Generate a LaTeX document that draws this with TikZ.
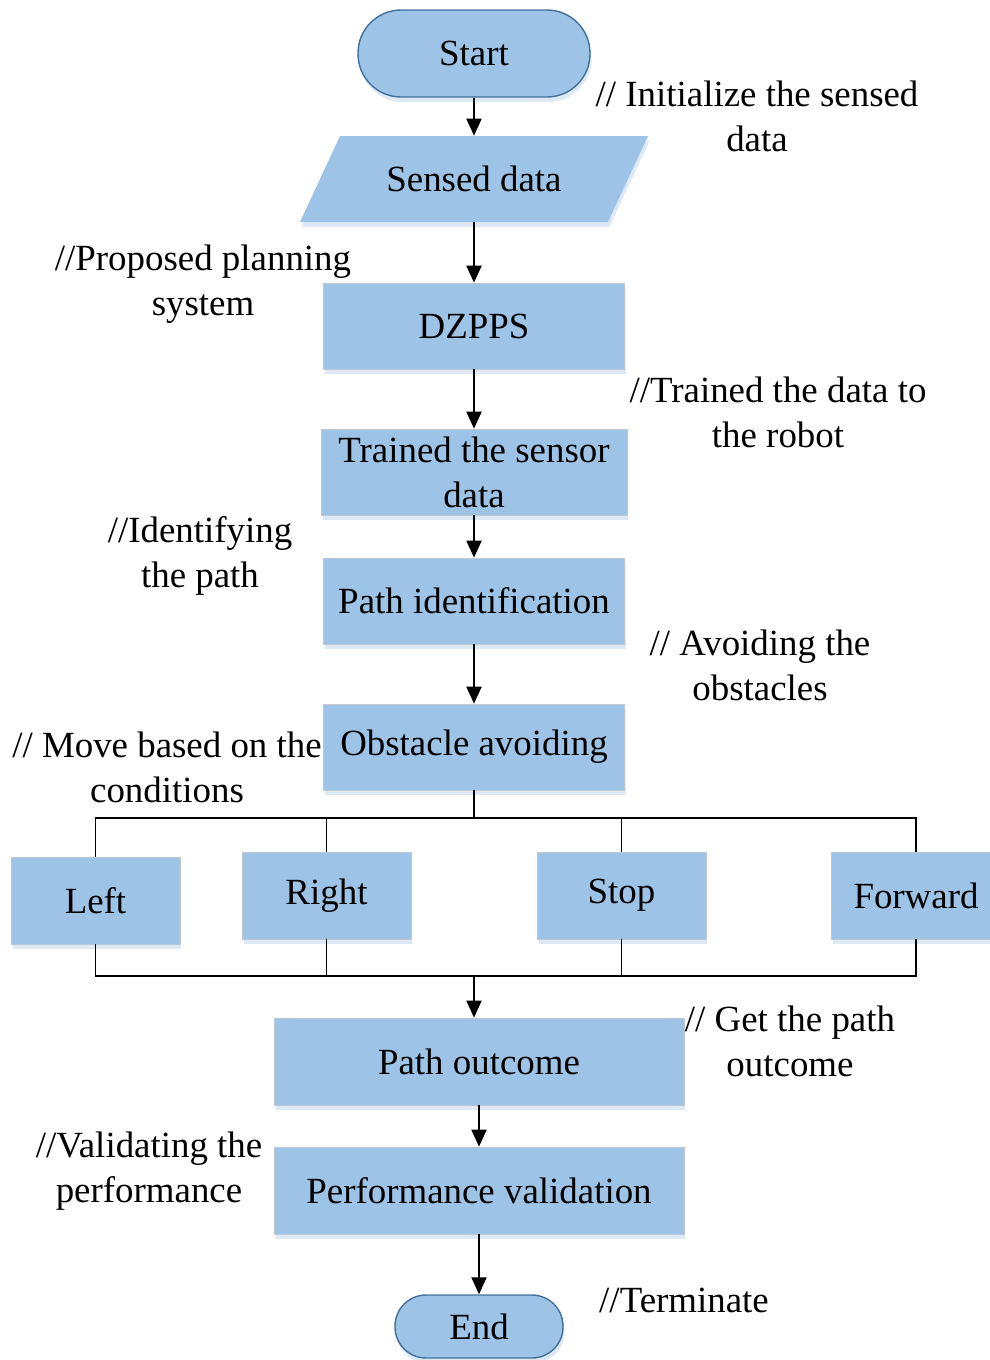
\documentclass[tikz,border=0pt]{standalone}
\usepackage{fontspec}
\setmainfont{Liberation Serif}
\usetikzlibrary{arrows.meta,shadows}
\definecolor{boxblue}{HTML}{9DC3E6}
\definecolor{edgeblue}{HTML}{41719C}
\definecolor{rimgray}{HTML}{BFC7CF}
\definecolor{shadeblue}{HTML}{D9E7F4}

\begin{document}
\begin{tikzpicture}[x=0.02cm,y=-0.02cm,
	font=\fontsize{21}{25.6}\selectfont,
	base/.style={fill=boxblue,inner sep=0pt,align=center,
		drop shadow={shadow xshift=0.03cm,shadow yshift=-0.1cm,fill=shadeblue,opacity=0.9}},
	box/.style={base,draw=rimgray,line width=0.4pt,minimum width=6.02cm,minimum height=1.72cm},
	pill/.style={base,draw=edgeblue,line width=0.8pt},
	turn/.style={box,minimum width=3.38cm,minimum height=1.74cm},
	note/.style={align=center,inner sep=0pt},
	flow/.style={line width=1.1pt,-{Triangle[length=0.34cm,width=0.3cm]}},
	bus/.style={line width=1.1pt}]
	\useasboundingbox (0,0) rectangle (990,1360);

	% main column
	\node[pill,minimum width=4.64cm,minimum height=1.74cm,rounded corners=0.86cm] (start) at (474,53.5) {Start};
	\fill[fill=boxblue,drop shadow={shadow xshift=0.03cm,shadow yshift=-0.1cm,fill=shadeblue,opacity=0.9}]
		(300,222) -- (608,222) -- (648,136) -- (340,136) -- cycle;
	\node[minimum width=6.16cm,minimum height=1.72cm,inner sep=0pt] (sensed) at (474,179) {Sensed data};
	\node[box] (dzpps) at (474,326) {DZPPS};
	\node[box,minimum width=6.12cm] (trained) at (474,472) {Trained the sensor\\data};
	\node[box] (pathid) at (474,601) {Path identification};
	\node[box] (obstacle) at (474,747) {Obstacle avoiding};

	% moves
	\node[turn] (left) at (95.5,900.5) {Left};
	\node[turn] (right) at (326.5,895.5) {Right};
	\node[turn] (stop) at (621.5,895.5) {Stop};
	\node[turn] (forward) at (916,895.5) {Forward};

	\node[box,minimum width=8.2cm,minimum height=1.74cm] (outcome) at (479,1061.5) {Path outcome};
	\node[box,minimum width=8.2cm,minimum height=1.74cm] (perf) at (479,1190.5) {Performance validation};
	\node[pill,minimum width=3.36cm,minimum height=1.26cm,rounded corners=0.62cm] (finish) at (479,1326.5) {End};

	\coordinate (split) at (474,818);
	\coordinate (join) at (474,976);

	\path[flow]
	(start) edge (sensed)
	(sensed) edge (dzpps)
	(dzpps) edge (trained)
	(trained) edge (pathid)
	(pathid) edge (obstacle)
	(join) edge (join |- outcome.north)
	(outcome) edge (perf)
	(perf) edge (finish);

	\draw[bus] (obstacle.south) -- (split);
	\draw[bus] (left.north) -- (left.north |- split) -- (forward.north |- split) -- (forward.north);
	\draw[bus] (right.north) -- (right.north |- split);
	\draw[bus] (stop.north) -- (stop.north |- split);
	\draw[bus] (left.south) -- (left.south |- join) -- (forward.south |- join) -- (forward.south);
	\draw[bus] (right.south) -- (right.south |- join);
	\draw[bus] (stop.south) -- (stop.south |- join);

	% comments
	\node[note] (n1) at (757,116) {// Initialize the sensed\\data};
	\node[note] (n2) at (203,284) {//Proposed planning\\system};
	\node[note] (n3) at (778,412) {//Trained the data to\\the robot};
	\node[note] (n4) at (200,556) {//Identifying\\the path};
	\node[note] (n5) at (760,665) {// Avoiding the\\obstacles};
	\node[note] (n6) at (167,767) {// Move based on the\\conditions};
	\node[note] (n7) at (790,1041) {// Get the path\\outcome};
	\node[note] (n8) at (149,1171) {//Validating the\\performance};
	\node[note] (n9) at (684,1300) {//Terminate};
\end{tikzpicture}
\end{document}
